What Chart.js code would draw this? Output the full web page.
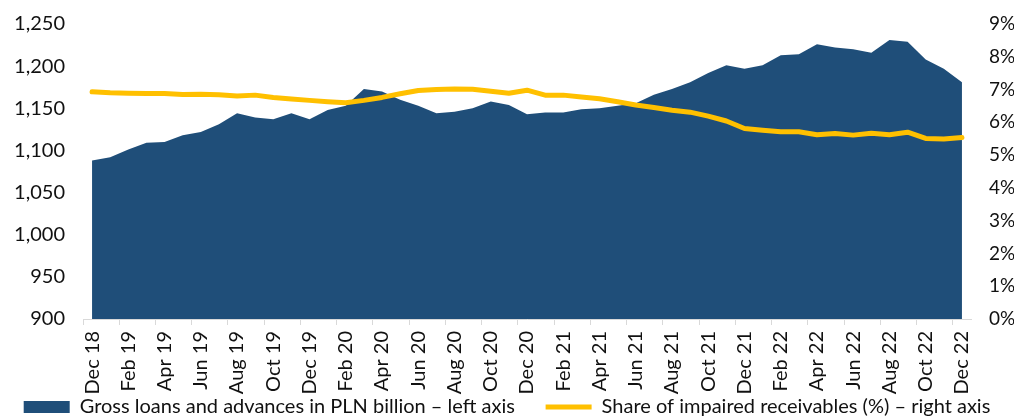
<!DOCTYPE html>
<html>
<head>
<meta charset="utf-8">
<script src="https://cdn.jsdelivr.net/npm/chart.js@4/dist/chart.umd.min.js"></script>
<style>
html,body{margin:0;padding:0;background:#fff;}
#wrap{width:1014px;height:416px;position:relative;}
</style>
</head>
<body>
<div id="wrap"><canvas id="c" width="1014" height="416"></canvas></div>
<script>
const categories = ["Dec 18","Jan 19","Feb 19","Mar 19","Apr 19","May 19","Jun 19","Jul 19","Aug 19","Sep 19","Oct 19","Nov 19","Dec 19",
"Jan 20","Feb 20","Mar 20","Apr 20","May 20","Jun 20","Jul 20","Aug 20","Sep 20","Oct 20","Nov 20","Dec 20",
"Jan 21","Feb 21","Mar 21","Apr 21","May 21","Jun 21","Jul 21","Aug 21","Sep 21","Oct 21","Nov 21","Dec 21",
"Jan 22","Feb 22","Mar 22","Apr 22","May 22","Jun 22","Jul 22","Aug 22","Sep 22","Oct 22","Nov 22","Dec 22"];
const grossLoans = [1088,1092,1101,1109,1110,1118,1122,1131,1144,1139,1137,1144,1137,1148,1153,1173,1170,1160,1153,1144,1146,1150,1158,1154,1143,1145,1145,1149,1150,1153,1156,1166,1173,1181,1192,1201,1197,1201,1213,1214,1226,1222,1220,1216,1231,1229,1208,1197,1181];
const impairedShare = [6.93,6.90,6.89,6.88,6.88,6.85,6.86,6.84,6.80,6.83,6.76,6.71,6.67,6.63,6.60,6.67,6.76,6.87,6.97,7.00,7.02,7.01,6.95,6.89,6.98,6.83,6.83,6.77,6.72,6.63,6.53,6.45,6.37,6.31,6.19,6.04,5.81,5.76,5.71,5.71,5.62,5.66,5.61,5.67,5.62,5.70,5.51,5.49,5.54];
const seriesNames = ["Gross loans and advances in PLN billion \u2013 left axis","Share of impaired receivables (%) \u2013 right axis"];
const leftTicks = {min:900,max:1250,step:50};
const rightTicks = {min:0,max:9,step:1};

const FONT = "Lato, 'Open Sans', sans-serif";
const TXT = '#111111';

new Chart(document.getElementById('c'), {
  type: 'line',
  data: {
    labels: categories,
    datasets: [
      {
        label: seriesNames[0],
        data: grossLoans,
        yAxisID: 'yL',
        fill: 'start',
        backgroundColor: '#1f4e79',
        borderWidth: 0,
        borderColor: '#1f4e79',
        pointRadius: 0,
        tension: 0,
        order: 1,
        pointStyle: 'rect'
      },
      {
        label: seriesNames[1],
        data: impairedShare,
        yAxisID: 'yR',
        fill: false,
        borderColor: '#ffc000',
        backgroundColor: '#ffc000',
        borderWidth: 5,
        borderCapStyle: 'round',
        borderJoinStyle: 'round',
        pointRadius: 0,
        tension: 0,
        order: 0,
        pointStyle: 'line'
      }
    ]
  },
  options: {
    responsive: false,
    animation: false,
    layout: {padding: {top: 24, bottom: -11, left: 0, right: 0}},
    plugins: {
      tooltip: {enabled: false},
      legend: {
        position: 'bottom',
        labels: {
          font: {family: FONT, size: 20},
          color: TXT,
          usePointStyle: true,
          pointStyleWidth: 46,
          boxHeight: 12,
          padding: 0,
          sort: (a, b) => a.datasetIndex - b.datasetIndex,
          generateLabels: (chart) => {
            const items = Chart.defaults.plugins.legend.labels.generateLabels(chart);
            items.forEach((it) => { if (it.datasetIndex === 0) it.text = it.text + '      '; });
            return items;
          }
        }
      }
    },
    scales: {
      x: {
        offset: true,
        border: {display: true, color: '#d9d9d9', width: 1},
        grid: {
          display: true,
          offset: true,
          drawOnChartArea: false,
          drawTicks: true,
          tickLength: 6,
          color: (ctx) => (ctx.index % 2 === 0 ? '#d9d9d9' : 'rgba(0,0,0,0)')
        },
        ticks: {
          autoSkip: false,
          maxRotation: 90,
          minRotation: 90,
          padding: 6,
          color: TXT,
          font: {family: FONT, size: 20},
          callback: function(v, i) { return i % 2 === 0 ? categories[i] : ''; }
        },
        afterFit: (s) => { s.height = 78; }
      },
      yL: {
        position: 'left',
        min: leftTicks.min,
        max: leftTicks.max,
        grid: {display: false},
        border: {display: false},
        ticks: {
          stepSize: leftTicks.step,
          padding: 10,
          color: TXT,
          font: {family: FONT, size: 20},
          callback: (v) => v.toLocaleString('en-US')
        },
        afterFit: (s) => { s.width = 83; }
      },
      yR: {
        position: 'right',
        min: rightTicks.min,
        max: rightTicks.max,
        grid: {display: false},
        border: {display: false},
        ticks: {
          stepSize: rightTicks.step,
          padding: 10,
          color: TXT,
          font: {family: FONT, size: 19},
          callback: (v) => v + '%'
        },
        afterFit: (s) => { s.width = 43; }
      }
    }
  }
});
</script>
</body>
</html>
